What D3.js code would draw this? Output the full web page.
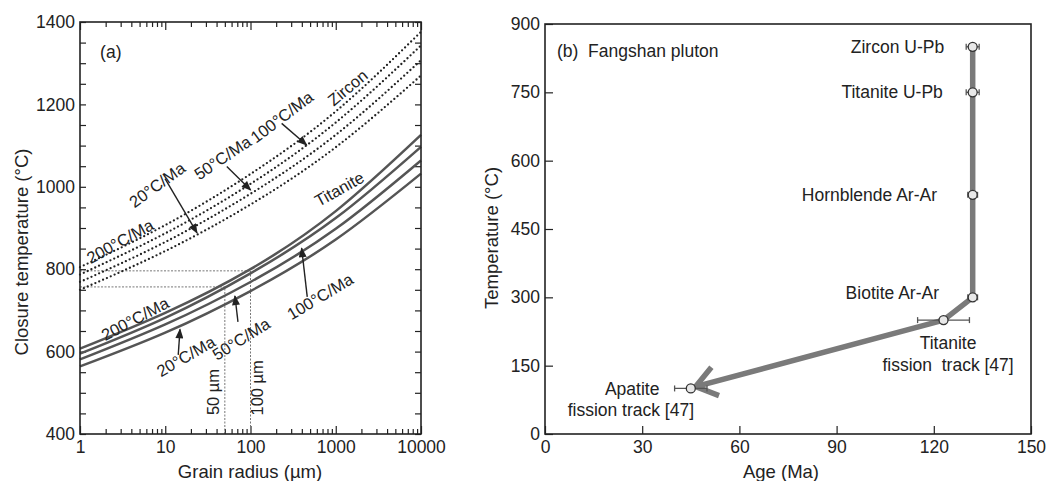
<!DOCTYPE html>
<html>
<head>
<meta charset="utf-8">
<script src="https://cdn.jsdelivr.net/npm/d3@7"></script>
<style>
  html, body { margin: 0; padding: 0; background: #fff; }
  svg { display: block; font-family: "Liberation Sans", Arial, Helvetica, sans-serif; }
</style>
</head>
<body>
<svg id="chart" width="1046" height="481"></svg>
<script>
// ---------- Panel (a): closure temperature vs grain radius ----------
const radius = [1, 10, 100, 1000, 10000];
const zircon20 = [750, 844, 957, 1096, 1270];
const zircon50 = [769, 866, 983, 1126, 1307];
const zircon100 = [787, 887, 1007, 1156, 1343];
const zircon200 = [805, 907, 1031, 1183, 1376];
const titanite20 = [564, 646, 747, 872, 1032];
const titanite50 = [581, 666, 769, 898, 1064];
const titanite100 = [595, 682, 790, 924, 1097];
const titanite200 = [607, 694, 800, 941, 1126];
const guideRadius = [50, 100];
const guideTemp = [757, 796];
const xTicksA = [1, 10, 100, 1000, 10000];
const yTicksA = [400, 600, 800, 1000, 1200, 1400];

// ---------- Panel (b): Fangshan pluton cooling path ----------
const minerals = ["Zircon U-Pb", "Titanite U-Pb", "Hornblende Ar-Ar", "Biotite Ar-Ar",
                  "Titanite fission track [47]", "Apatite fission track [47]"];
const ages = [132, 132, 132, 132, 123, 45];
const ageErr = [2, 2, 1.5, 1.5, 8, 5];
const temps = [850, 750, 525, 300, 250, 100];
const pathAge = [132, 132, 123, 46.5];
const pathTemp = [850, 300, 250, 104];
const xTicksB = [0, 30, 60, 90, 120, 150];
const yTicksB = [0, 150, 300, 450, 600, 750, 900];

const ink = "#222";
const fs = 17.5;
const svg = d3.select("#chart");

const xA = d3.scaleLog().domain([1, 10000]).range([80, 421]);
const yA = d3.scaleLinear().domain([400, 1400]).range([434, 22]);
const xB = d3.scaleLinear().domain([0, 150]).range([545, 1031]);
const yB = d3.scaleLinear().domain([0, 900]).range([434, 24]);

svg.append("defs").append("marker")
  .attr("id", "head").attr("viewBox", "0 0 10 8")
  .attr("refX", 9).attr("refY", 4)
  .attr("markerUnits", "userSpaceOnUse")
  .attr("markerWidth", 11).attr("markerHeight", 8)
  .attr("orient", "auto")
  .append("path").attr("d", "M0,0 L10,4 L0,8 Z").attr("fill", ink);

function styleAxis(g) {
  g.select(".domain").remove();
  g.attr("font-family", null).attr("font-size", null);
  g.selectAll(".tick line").attr("stroke", ink).attr("stroke-width", 1.2);
  g.selectAll(".tick text").attr("fill", ink).style("font-size", fs + "px");
}

function frame(x, y) {
  const [x0, x1] = x.range();
  const [y1, y0] = y.range();
  svg.append("rect").attr("x", x0).attr("y", y0)
    .attr("width", x1 - x0).attr("height", y1 - y0)
    .attr("fill", "none").attr("stroke", ink).attr("stroke-width", 1.6);
}

// ---------- Panel (a) ----------
const minorA = [];
[1, 10, 100, 1000].forEach(k => d3.range(2, 10).forEach(m => minorA.push(m * k)));
const yMinorA = d3.range(400, 1401, 50);

svg.append("g").attr("transform", "translate(0,434)")
  .call(d3.axisBottom(xA).tickValues(minorA).tickSize(-5).tickFormat("")).call(styleAxis);
svg.append("g").attr("transform", "translate(0,434)")
  .call(d3.axisBottom(xA).tickValues(xTicksA).tickSize(-8).tickPadding(7).tickFormat(d3.format("d"))).call(styleAxis);
svg.append("g").attr("transform", "translate(0,22)")
  .call(d3.axisTop(xA).tickValues(minorA).tickSize(-5).tickFormat("")).call(styleAxis);
svg.append("g").attr("transform", "translate(0,22)")
  .call(d3.axisTop(xA).tickValues(xTicksA).tickSize(-8).tickFormat("")).call(styleAxis);
svg.append("g").attr("transform", "translate(80,0)")
  .call(d3.axisLeft(yA).tickValues(yMinorA).tickSize(-6).tickPadding(5)
    .tickFormat(d => yTicksA.includes(d) ? d : "")).call(styleAxis);
svg.append("g").attr("transform", "translate(421,0)")
  .call(d3.axisRight(yA).tickValues(yMinorA).tickSize(-6).tickFormat("")).call(styleAxis);

// reference lines for 50 and 100 µm grains
guideRadius.forEach((r, i) => {
  svg.append("line")
    .attr("x1", xA(1)).attr("x2", xA(r))
    .attr("y1", yA(guideTemp[i])).attr("y2", yA(guideTemp[i]))
    .attr("stroke", "#777").attr("stroke-width", 1).attr("stroke-dasharray", "2,1.5");
  svg.append("line")
    .attr("x1", xA(r)).attr("x2", xA(r))
    .attr("y1", yA(400)).attr("y2", yA(guideTemp[i]))
    .attr("stroke", "#777").attr("stroke-width", 1).attr("stroke-dasharray", "2,1.5");
});

const lineA = d3.line().x((d, i) => xA(radius[i])).y(d => yA(d)).curve(d3.curveNatural);

[titanite20, titanite50, titanite100, titanite200].forEach(s => {
  svg.append("path").attr("d", lineA(s))
    .attr("fill", "none").attr("stroke", "#555").attr("stroke-width", 2.5);
});
[zircon20, zircon50, zircon100, zircon200].forEach(s => {
  svg.append("path").attr("d", lineA(s))
    .attr("fill", "none").attr("stroke", ink).attr("stroke-width", 2.3)
    .attr("stroke-linecap", "round").attr("stroke-dasharray", "0,4.2");
});

const labelsA = [
  { t: "(a)", r: 1.72, T: 1327, a: 0, anchor: "start", size: fs },
  { t: "Zircon", r: 1374, T: 1241, a: -40 },
  { t: "200°C/Ma", r: 2.95, T: 868, a: -29 },
  { t: "20°C/Ma", r: 8.0, T: 1005, a: -36 },
  { t: "50°C/Ma", r: 46.9, T: 1071, a: -34 },
  { t: "100°C/Ma", r: 232, T: 1170, a: -37 },
  { t: "Titanite", r: 1098, T: 995, a: -29 },
  { t: "200°C/Ma", r: 4.42, T: 680, a: -28 },
  { t: "20°C/Ma", r: 17.4, T: 589, a: -30 },
  { t: "50°C/Ma", r: 77.5, T: 631, a: -32 },
  { t: "100°C/Ma", r: 654, T: 734, a: -31 },
  { t: "50 µm", r: 36.3, T: 502, a: -90 },
  { t: "100 µm", r: 119, T: 512, a: -90 }
];
labelsA.forEach(l => {
  svg.append("text")
    .attr("transform", `translate(${xA(l.r)},${yA(l.T)}) rotate(${l.a})`)
    .attr("text-anchor", l.anchor || "middle").attr("dominant-baseline", "central")
    .attr("fill", ink).style("font-size", (l.size || 16.5) + "px").text(l.t);
});

const arrowsA = [
  [9.94, 1020, 23.6, 888],
  [52.7, 1049, 100.4, 992],
  [232, 1154, 456, 1101.5],
  [14.2, 592, 14.9, 654],
  [71.3, 672, 65.7, 735],
  [463, 733, 398, 851]
];
arrowsA.forEach(([r0, t0, r1, t1]) => {
  svg.append("line")
    .attr("x1", xA(r0)).attr("y1", yA(t0)).attr("x2", xA(r1)).attr("y2", yA(t1))
    .attr("stroke", ink).attr("stroke-width", 1.4).attr("marker-end", "url(#head)");
});

frame(xA, yA);

svg.append("text").attr("transform", "translate(21,252) rotate(-90)")
  .attr("text-anchor", "middle").attr("dominant-baseline", "central")
  .attr("fill", ink).style("font-size", "18.5px").text("Closure temperature (°C)");
svg.append("text").attr("x", 250).attr("y", 471)
  .attr("text-anchor", "middle").attr("dominant-baseline", "central")
  .attr("fill", ink).style("font-size", "18.5px").text("Grain radius (µm)");

// ---------- Panel (b) ----------
svg.append("g").attr("transform", "translate(545,0)")
  .call(d3.axisLeft(yB).tickValues(yTicksB).tickSize(-8).tickPadding(5)).call(styleAxis);
svg.append("g").attr("transform", "translate(0,434)")
  .call(d3.axisBottom(xB).tickValues(xTicksB).tickSize(-8).tickPadding(7)).call(styleAxis);

// cooling path with open arrow head
const lineB = d3.line().x((d, i) => xB(pathAge[i])).y(d => yB(d));
svg.append("path").attr("d", lineB(pathTemp))
  .attr("fill", "none").attr("stroke", "#7a7a7a").attr("stroke-width", 5.5)
  .attr("stroke-linejoin", "round");
{
  const n = pathAge.length - 1;
  const px = xB(pathAge[n]), py = yB(pathTemp[n]);
  const qx = xB(pathAge[n - 1]), qy = yB(pathTemp[n - 1]);
  const len = Math.hypot(qx - px, qy - py);
  const ux = (qx - px) / len, uy = (qy - py) / len;
  const L = 25, th = 36 * Math.PI / 180;
  const arm = s => [px + L * (ux * Math.cos(s * th) - uy * Math.sin(s * th)),
                    py + L * (ux * Math.sin(s * th) + uy * Math.cos(s * th))];
  const a1 = arm(1), a2 = arm(-1);
  svg.append("path").attr("d", `M${a1[0]},${a1[1]} L${px},${py} L${a2[0]},${a2[1]}`)
    .attr("fill", "none").attr("stroke", "#7a7a7a").attr("stroke-width", 5.5)
    .attr("stroke-linejoin", "miter");
}

// error bars and dated points
minerals.forEach((m, i) => {
  const y = yB(temps[i]);
  const x0 = xB(ages[i] - ageErr[i]), x1 = xB(ages[i] + ageErr[i]);
  const g = svg.append("g").attr("stroke", "#555").attr("stroke-width", 1.3);
  g.append("line").attr("x1", x0).attr("x2", x1).attr("y1", y).attr("y2", y);
  g.append("line").attr("x1", x0).attr("x2", x0).attr("y1", y - 3).attr("y2", y + 3);
  g.append("line").attr("x1", x1).attr("x2", x1).attr("y1", y - 3).attr("y2", y + 3);
});
svg.selectAll("circle.pt").data(minerals).join("circle").attr("class", "pt")
  .attr("cx", (d, i) => xB(ages[i])).attr("cy", (d, i) => yB(temps[i]))
  .attr("r", 4.5).attr("fill", "#e8e8e8").attr("stroke", "#333").attr("stroke-width", 1.3);

const labelsB = [
  { t: "(b)  Fangshan pluton", age: 3.7, T: 840, anchor: "start" },
  { t: "Zircon U-Pb", age: 123.2, T: 850, anchor: "end" },
  { t: "Titanite U-Pb", age: 122.8, T: 750, anchor: "end" },
  { t: "Hornblende Ar-Ar", age: 121, T: 525, anchor: "end" },
  { t: "Biotite Ar-Ar", age: 121.6, T: 309, anchor: "end" },
  { t: "Titanite", age: 124.4, T: 200, anchor: "middle" },
  { t: "fission  track [47]", age: 124.4, T: 151, anchor: "middle" },
  { t: "Apatite", age: 26.9, T: 99, anchor: "middle" },
  { t: "fission track [47]", age: 26.5, T: 53, anchor: "middle" }
];
labelsB.forEach(l => {
  svg.append("text").attr("x", xB(l.age)).attr("y", yB(l.T))
    .attr("text-anchor", l.anchor).attr("dominant-baseline", "central")
    .attr("fill", ink).style("font-size", fs + "px").style("white-space", "pre").text(l.t);
});

frame(xB, yB);

svg.append("text").attr("transform", "translate(491,238) rotate(-90)")
  .attr("text-anchor", "middle").attr("dominant-baseline", "central")
  .attr("fill", ink).style("font-size", "18.5px").text("Temperature (°C)");
svg.append("text").attr("x", 781).attr("y", 471)
  .attr("text-anchor", "middle").attr("dominant-baseline", "central")
  .attr("fill", ink).style("font-size", "18.5px").text("Age (Ma)");
</script>
</body>
</html>
